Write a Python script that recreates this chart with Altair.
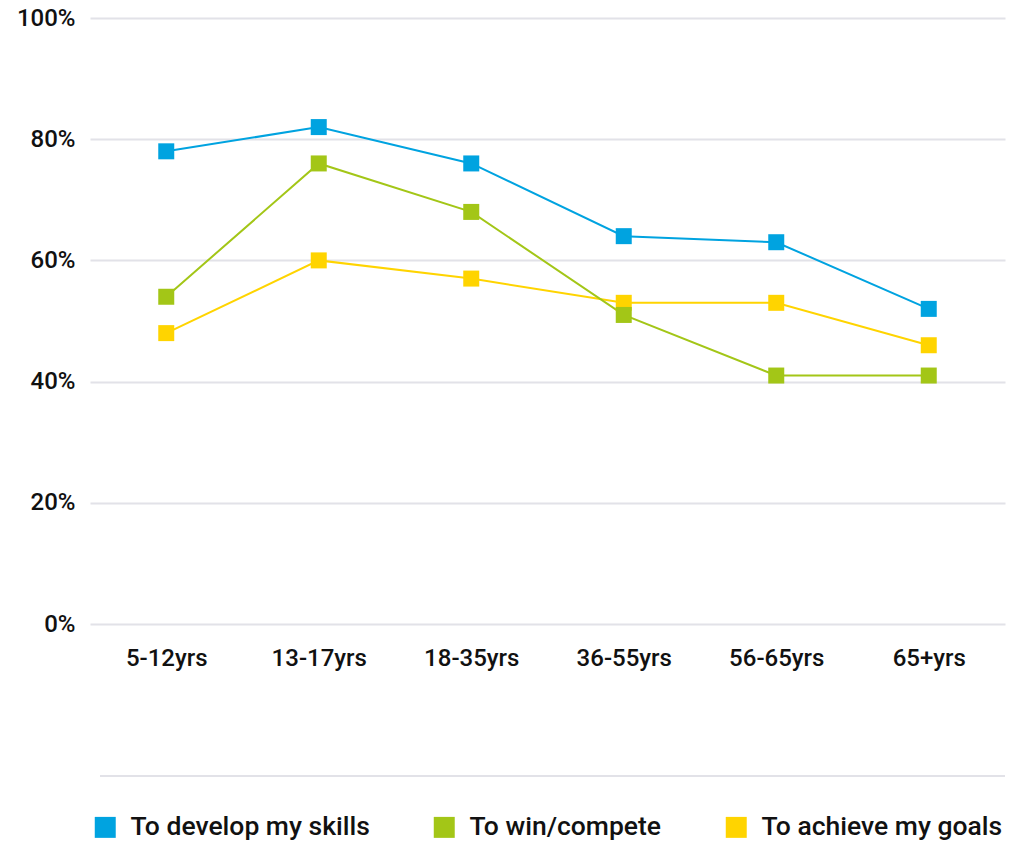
import altair as alt
import pandas as pd

# Age groups on the x axis
age_groups = ["5-12yrs", "13-17yrs", "18-35yrs", "36-55yrs", "56-65yrs", "65+yrs"]

# Share of respondents (%) giving each reason, per age group
develop_skills = [78, 82, 76, 64, 63, 52]
win_compete = [54, 76, 68, 51, 41, 41]
achieve_goals = [48, 60, 57, 53, 53, 46]

series_names = ["To develop my skills", "To win/compete", "To achieve my goals"]
series_colors = ["#00A3E0", "#A3C617", "#FFD400"]

# Rows ordered so the green series is painted above the yellow one
rows = []
for name, values in [
    ("To develop my skills", develop_skills),
    ("To achieve my goals", achieve_goals),
    ("To win/compete", win_compete),
]:
    for age, v in zip(age_groups, values):
        rows.append({"age": age, "reason": name, "pct": v})
df = pd.DataFrame(rows)

FONT = "Roboto"
TEXT_COLOR = "#111111"

x_enc = alt.X(
    "age:N",
    sort=age_groups,
    scale=alt.Scale(type="point", padding=0.5),
    axis=alt.Axis(
        title=None, labelAngle=0, ticks=False, domain=False, grid=False,
        labelFont=FONT, labelFontSize=24, labelFontWeight=500,
        labelColor=TEXT_COLOR, labelPadding=22,
    ),
)
y_enc = alt.Y(
    "pct:Q",
    scale=alt.Scale(domain=[0, 100], nice=False),
    axis=alt.Axis(
        title=None, values=[0, 20, 40, 60, 80, 100],
        labelExpr="datum.value + '%'",
        ticks=False, domain=False, grid=True,
        gridColor="#E2E2E8", gridWidth=2,
        labelFont=FONT, labelFontSize=24, labelFontWeight=500,
        labelColor=TEXT_COLOR, labelPadding=15,
    ),
)
color_scale = alt.Scale(domain=series_names, range=series_colors)

lines = alt.Chart(df).mark_line(strokeWidth=2).encode(
    x=x_enc,
    y=y_enc,
    color=alt.Color("reason:N", scale=color_scale, legend=None),
    detail="reason:N",
)

squares = alt.Chart(df).mark_square(size=256, opacity=1).encode(
    x=x_enc,
    y=y_enc,
    color=alt.Color(
        "reason:N",
        scale=color_scale,
        legend=alt.Legend(
            title=None, orient="none", direction="horizontal",
            legendX=2, legendY=796,
            symbolType="square", symbolSize=440, symbolStrokeWidth=0,
            symbolOpacity=1,
            labelFont=FONT, labelFontSize=26.5, labelFontWeight=500,
            labelColor=TEXT_COLOR, labelOffset=12, labelLimit=0,
            columnPadding=61, padding=0,
        ),
    ),
)

# Thin separator between the plot and the legend
separator = alt.Chart(df).mark_rule(color="#E2E2E8", strokeWidth=2).encode(
    x=alt.value(10), x2=alt.value(915), y=alt.value(758)
)

chart = (
    alt.layer(lines, squares, separator)
    .resolve_legend(color="independent")
    .properties(
        width=915,
        height=606,
        padding={"left": 90, "top": 18, "right": 7, "bottom": 218},
        autosize=alt.AutoSizeParams(type="none"),
        background="white",
    )
    .configure_view(stroke=None)
)

chart.save("out.html", embed_options={"renderer": "svg", "actions": False})
